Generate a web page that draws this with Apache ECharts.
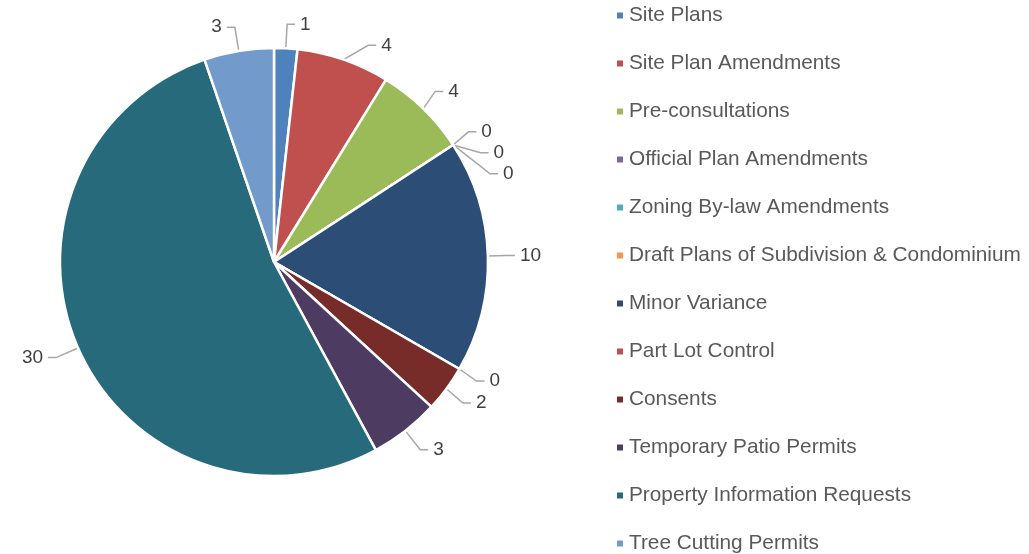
<!DOCTYPE html>
<html>
<head>
<meta charset="utf-8">
<script src="https://cdn.jsdelivr.net/npm/echarts@6/dist/echarts.min.js"></script>
<style>html,body{margin:0;padding:0;background:#fff}#c{width:1029px;height:554px}</style>
</head>
<body>
<div id="c"></div>
<script>
const categories = ["Site Plans","Site Plan Amendments","Pre-consultations","Official Plan Amendments","Zoning By-law Amendments","Draft Plans of Subdivision & Condominium","Minor Variance","Part Lot Control","Consents","Temporary Patio Permits","Property Information Requests","Tree Cutting Permits"];
const values = [1,4,4,0,0,0,10,0,2,3,30,3];
const colors = ["#4F81BD","#C0504D","#9BBB59","#8064A2","#4BACC6","#F79646","#2C4D75","#C0504D","#772C2A","#4D3B62","#276A7C","#729ACA"];

const chart = echarts.init(document.getElementById('c'));
chart.setOption({
  animation: false,
  color: colors,
  legend: {
    orient: 'vertical',
    left: 615, top: 5,
    padding: 0,
    itemWidth: 8, itemHeight: 8,
    itemGap: 27,
    icon: 'rect',
    textStyle: {fontFamily: 'Liberation Sans', fontSize: 20.8, color: '#595959', lineHeight: 21},
    data: categories
  },
  series: [{
    type: 'pie',
    center: [274, 262],
    radius: [0, 214],
    startAngle: 90,
    clockwise: true,
    avoidLabelOverlap: true,
    itemStyle: {borderColor: '#fff', borderWidth: 2.5},
    label: {show: true, formatter: '{c}', fontFamily: 'Liberation Sans', fontSize: 19, color: '#404040'},
    labelLine: {show: true, length: 24, length2: 8, lineStyle: {color: '#A6A6A6', width: 1.5}},
    data: categories.map((n, i) => ({name: n, value: values[i]}))
  }]
});
</script>
</body>
</html>
